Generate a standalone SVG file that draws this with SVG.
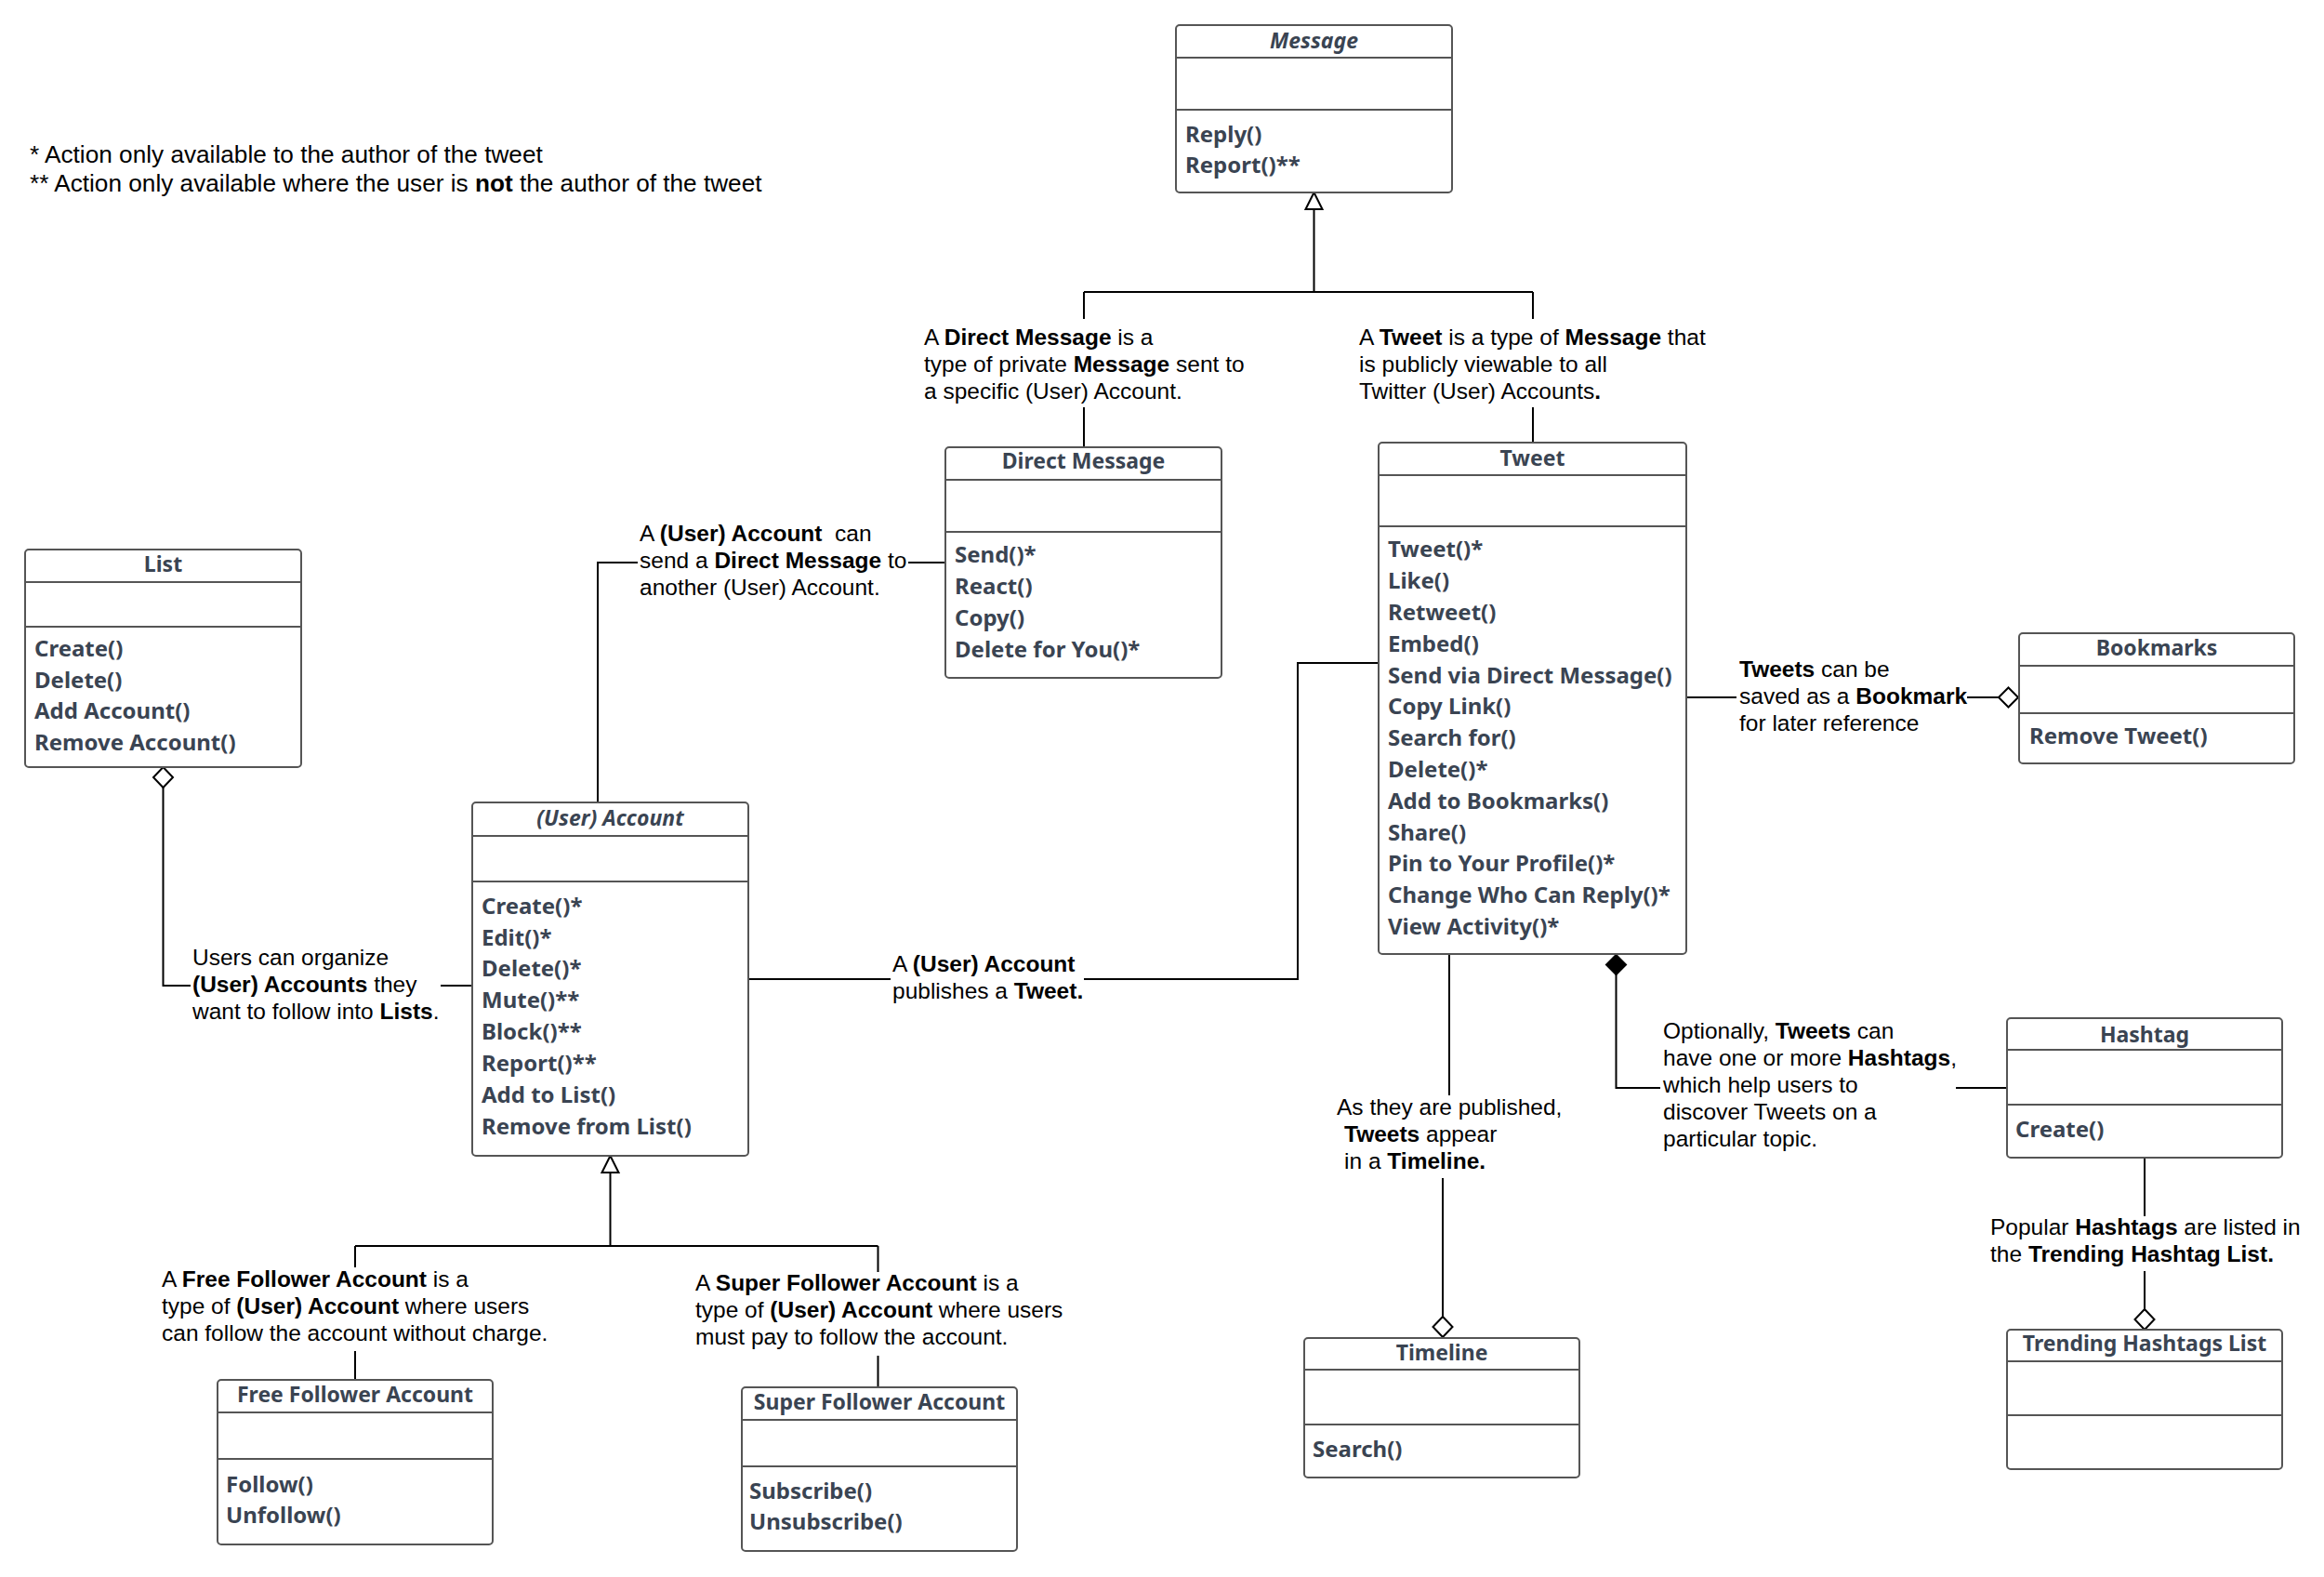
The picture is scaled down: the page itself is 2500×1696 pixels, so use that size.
<svg xmlns="http://www.w3.org/2000/svg" width="2500" height="1696" viewBox="0 0 2500 1696">
<style>
.bx{fill:#fff;stroke:#555;stroke-width:2}
.dv{stroke:#555;stroke-width:2}
.hd{font-family:"Noto Sans","Open Sans",sans-serif;font-weight:bold;font-size:23px;fill:#3a4452;text-anchor:middle}
.it{font-style:italic}
.m{font-family:"Noto Sans","Open Sans",sans-serif;font-weight:bold;font-size:24px;fill:#3a4452}
.lb{font-family:"Liberation Sans",Arial,sans-serif;font-size:24.5px;fill:#000}
.nt{font-family:"Liberation Sans",Arial,sans-serif;font-size:26.2px;fill:#000}
.b{font-weight:bold}
.cn{stroke:#000;stroke-width:2;fill:none}
.hol{fill:#fff;stroke:#000;stroke-width:2}
.fil{fill:#000;stroke:#000;stroke-width:2}
</style>
<rect width="2500" height="1696" fill="#fff"/>

<g id="notes">
<text class="nt" x="32" y="175">* Action only available to the author of the tweet</text>
<text class="nt" x="32" y="206">** Action only available where the user is <tspan class="b">not</tspan> the author of the tweet</text>
</g>

<g id="connectors">
<polygon class="hol" points="1413.5,207 1404.5,225 1422.5,225"/>
<path class="cn" d="M1413.5 225 V314 M1166 314 H1649 M1166 314 V343 M1166 438 V481 M1649 314 V343 M1649 438 V476"/>
<path class="cn" d="M643 863 V605 H686 M977 605 H1017"/>
<path class="cn" d="M805 1053 H958 M1166 1053 H1396 V713 H1483"/>
<polygon class="hol" points="175.5,825 186,836 175.5,847 165,836"/>
<path class="cn" d="M175.5 847 V1060 H205 M474 1060 H508"/>
<polygon class="hol" points="656.5,1243 647.5,1261 665.5,1261"/>
<path class="cn" d="M656.5 1261 V1340 M382 1340 H944.5 M382 1340 V1363 M382 1453 V1484 M944.5 1340 V1368 M944.5 1458 V1492"/>
<path class="cn" d="M1814 750 H1868 M2116 750 H2150"/>
<polygon class="hol" points="2150,750 2160.5,739.5 2171,750 2160.5,760.5"/>
<path class="cn" d="M1559 1026 V1178 M1552 1267 V1416"/>
<polygon class="hol" points="1552,1416 1562.5,1427 1552,1438 1541.5,1427"/>
<polygon class="fil" points="1738.5,1027 1749,1037.5 1738.5,1048 1728,1037.5"/>
<path class="cn" d="M1738.5 1048 V1170 H1786 M2104 1170 H2159"/>
<path class="cn" d="M2307 1245 V1308 M2307 1367 V1408"/>
<polygon class="hol" points="2307,1408 2317.5,1419 2307,1430 2296.5,1419"/>
</g>

<g id="labels">
<text class="lb" x="994" y="371">A <tspan class="b">Direct Message</tspan> is a</text>
<text class="lb" x="994" y="400">type of private <tspan class="b">Message</tspan> sent to</text>
<text class="lb" x="994" y="429">a specific (User) Account.</text>

<text class="lb" x="1462" y="371">A <tspan class="b">Tweet</tspan> is a type of <tspan class="b">Message</tspan> that</text>
<text class="lb" x="1462" y="400">is publicly viewable to all</text>
<text class="lb" x="1462" y="429">Twitter (User) Accounts<tspan class="b">.</tspan></text>

<text class="lb" x="688" y="582" xml:space="preserve">A <tspan class="b">(User) Account</tspan>  can</text>
<text class="lb" x="688" y="611">send a <tspan class="b">Direct Message</tspan> to</text>
<text class="lb" x="688" y="640">another (User) Account.</text>

<text class="lb" x="960" y="1045">A <tspan class="b">(User) Account</tspan></text>
<text class="lb" x="960" y="1074">publishes a <tspan class="b">Tweet.</tspan></text>

<text class="lb" x="207" y="1038">Users can organize</text>
<text class="lb" x="207" y="1067"><tspan class="b">(User) Accounts</tspan> they</text>
<text class="lb" x="207" y="1096">want to follow into <tspan class="b">Lists</tspan>.</text>

<text class="lb" x="174" y="1384">A <tspan class="b">Free Follower Account</tspan> is a</text>
<text class="lb" x="174" y="1413">type of <tspan class="b">(User) Account</tspan> where users</text>
<text class="lb" x="174" y="1442">can follow the account without charge.</text>

<text class="lb" x="748" y="1388">A <tspan class="b">Super Follower Account</tspan> is a</text>
<text class="lb" x="748" y="1417">type of <tspan class="b">(User) Account</tspan> where users</text>
<text class="lb" x="748" y="1446">must pay to follow the account.</text>

<text class="lb" x="1871" y="728"><tspan class="b">Tweets</tspan> can be</text>
<text class="lb" x="1871" y="757">saved as a <tspan class="b">Bookmark</tspan></text>
<text class="lb" x="1871" y="786">for later reference</text>

<text class="lb" x="1438" y="1199">As they are published,</text>
<text class="lb" x="1446" y="1228"><tspan class="b">Tweets</tspan> appear</text>
<text class="lb" x="1446" y="1257">in a <tspan class="b">Timeline.</tspan></text>

<text class="lb" x="1789" y="1117">Optionally, <tspan class="b">Tweets</tspan> can</text>
<text class="lb" x="1789" y="1146">have one or more <tspan class="b">Hashtags</tspan>,</text>
<text class="lb" x="1789" y="1175">which help users to</text>
<text class="lb" x="1789" y="1204">discover Tweets on a</text>
<text class="lb" x="1789" y="1233">particular topic.</text>

<text class="lb" x="2141" y="1328">Popular <tspan class="b">Hashtags</tspan> are listed in</text>
<text class="lb" x="2141" y="1357">the <tspan class="b">Trending Hashtag List.</tspan></text>
</g>

<g id="message">
<rect class="bx" x="1265" y="27" width="297" height="180" rx="4"/>
<line class="dv" x1="1265" y1="62" x2="1562" y2="62"/>
<line class="dv" x1="1265" y1="118" x2="1562" y2="118"/>
<text class="hd it" x="1413.5" y="52">Message</text>
<text class="m" x="1275" y="153">Reply()</text>
<text class="m" x="1275" y="186">Report()**</text>
</g>

<g id="direct-message">
<rect class="bx" x="1017" y="481" width="297" height="248" rx="4"/>
<line class="dv" x1="1017" y1="516" x2="1314" y2="516"/>
<line class="dv" x1="1017" y1="572" x2="1314" y2="572"/>
<text class="hd" x="1165.5" y="504">Direct Message</text>
<text class="m" x="1027" y="605">Send()*</text>
<text class="m" x="1027" y="639">React()</text>
<text class="m" x="1027" y="673">Copy()</text>
<text class="m" x="1027" y="707">Delete for You()*</text>
</g>

<g id="tweet">
<rect class="bx" x="1483" y="476" width="331" height="550" rx="4"/>
<line class="dv" x1="1483" y1="511" x2="1814" y2="511"/>
<line class="dv" x1="1483" y1="566" x2="1814" y2="566"/>
<text class="hd" x="1648.5" y="501">Tweet</text>
<text class="m" x="1493" y="599">Tweet()*</text>
<text class="m" x="1493" y="633">Like()</text>
<text class="m" x="1493" y="667">Retweet()</text>
<text class="m" x="1493" y="701">Embed()</text>
<text class="m" x="1493" y="734.5">Send via Direct Message()</text>
<text class="m" x="1493" y="768">Copy Link()</text>
<text class="m" x="1493" y="802">Search for()</text>
<text class="m" x="1493" y="836">Delete()*</text>
<text class="m" x="1493" y="869.5">Add to Bookmarks()</text>
<text class="m" x="1493" y="903.5">Share()</text>
<text class="m" x="1493" y="937">Pin to Your Profile()*</text>
<text class="m" x="1493" y="971">Change Who Can Reply()*</text>
<text class="m" x="1493" y="1004.5">View Activity()*</text>
</g>

<g id="list">
<rect class="bx" x="27" y="591" width="297" height="234" rx="4"/>
<line class="dv" x1="27" y1="626" x2="324" y2="626"/>
<line class="dv" x1="27" y1="674" x2="324" y2="674"/>
<text class="hd" x="175.5" y="615">List</text>
<text class="m" x="37" y="706">Create()</text>
<text class="m" x="37" y="739.5">Delete()</text>
<text class="m" x="37" y="773">Add Account()</text>
<text class="m" x="37" y="807">Remove Account()</text>
</g>

<g id="user-account">
<rect class="bx" x="508" y="863" width="297" height="380" rx="4"/>
<line class="dv" x1="508" y1="899" x2="805" y2="899"/>
<line class="dv" x1="508" y1="948" x2="805" y2="948"/>
<text class="hd it" x="656.5" y="888">(User) Account</text>
<text class="m" x="518" y="983">Create()*</text>
<text class="m" x="518" y="1017">Edit()*</text>
<text class="m" x="518" y="1050">Delete()*</text>
<text class="m" x="518" y="1084">Mute()**</text>
<text class="m" x="518" y="1118">Block()**</text>
<text class="m" x="518" y="1152">Report()**</text>
<text class="m" x="518" y="1186">Add to List()</text>
<text class="m" x="518" y="1220">Remove from List()</text>
</g>

<g id="free-follower-account">
<rect class="bx" x="234" y="1484" width="296" height="177" rx="4"/>
<line class="dv" x1="234" y1="1519" x2="530" y2="1519"/>
<line class="dv" x1="234" y1="1569" x2="530" y2="1569"/>
<text class="hd" x="382" y="1508">Free Follower Account</text>
<text class="m" x="243" y="1605">Follow()</text>
<text class="m" x="243" y="1638">Unfollow()</text>
</g>

<g id="super-follower-account">
<rect class="bx" x="798" y="1492" width="296" height="176" rx="4"/>
<line class="dv" x1="798" y1="1527" x2="1094" y2="1527"/>
<line class="dv" x1="798" y1="1577" x2="1094" y2="1577"/>
<text class="hd" x="946" y="1516">Super Follower Account</text>
<text class="m" x="806" y="1612">Subscribe()</text>
<text class="m" x="806" y="1645">Unsubscribe()</text>
</g>

<g id="bookmarks">
<rect class="bx" x="2172" y="681" width="296" height="140" rx="4"/>
<line class="dv" x1="2172" y1="716" x2="2468" y2="716"/>
<line class="dv" x1="2172" y1="767" x2="2468" y2="767"/>
<text class="hd" x="2320" y="705">Bookmarks</text>
<text class="m" x="2183" y="800">Remove Tweet()</text>
</g>

<g id="hashtag">
<rect class="bx" x="2159" y="1095" width="296" height="150" rx="4"/>
<line class="dv" x1="2159" y1="1129" x2="2455" y2="1129"/>
<line class="dv" x1="2159" y1="1188" x2="2455" y2="1188"/>
<text class="hd" x="2307" y="1121">Hashtag</text>
<text class="m" x="2168" y="1223">Create()</text>
</g>

<g id="trending-hashtags-list">
<rect class="bx" x="2159" y="1430" width="296" height="150" rx="4"/>
<line class="dv" x1="2159" y1="1464" x2="2455" y2="1464"/>
<line class="dv" x1="2159" y1="1522" x2="2455" y2="1522"/>
<text class="hd" x="2307" y="1453">Trending Hashtags List</text>
</g>

<g id="timeline">
<rect class="bx" x="1403" y="1439" width="296" height="150" rx="4"/>
<line class="dv" x1="1403" y1="1473" x2="1699" y2="1473"/>
<line class="dv" x1="1403" y1="1532" x2="1699" y2="1532"/>
<text class="hd" x="1551" y="1463">Timeline</text>
<text class="m" x="1412" y="1567">Search()</text>
</g>
</svg>
